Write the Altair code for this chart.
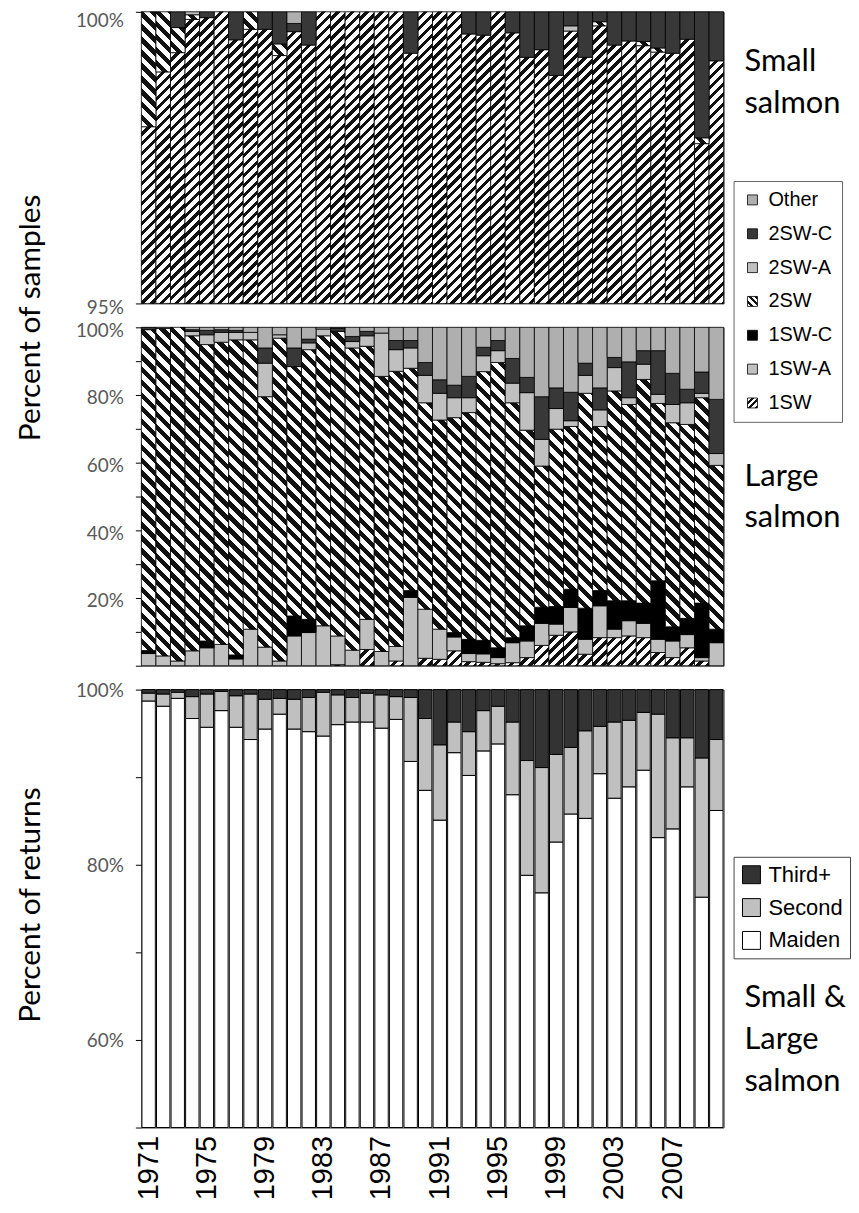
import altair as alt
import pandas as pd

YEARS = [str(y) for y in range(1971, 2011)]
YEAR_LABELS = [str(y) for y in range(1971, 2008, 4)]
AGE_CATS = ["1SW", "1SW-A", "1SW-C", "2SW", "2SW-A", "2SW-C", "Other"]
LEGEND_ORDER = ["Other", "2SW-C", "2SW-A", "2SW", "1SW-C", "1SW-A", "1SW"]
RET_CATS = ["Maiden", "Second", "Third+"]

# ---- Small salmon: percent of samples by sea-age class ----
small_1sw = [98.03, 98.97, 99.30, 99.87, 99.90, 100.0, 99.52, 99.70, 99.70, 99.25,
             99.66, 99.43, 100.0, 100.0, 100.0, 100.0, 100.0, 100.0, 99.29, 100.0,
             100.0, 100.0, 99.62, 99.60, 100.0, 99.64, 99.22, 99.35, 98.91, 99.67,
             99.22, 99.76, 99.43, 99.50, 99.42, 99.31, 99.29, 99.53, 97.74, 99.16]
small_1swa = [0.0] * 40
small_1swc = [0.0] * 40
small_2sw = [1.97, 1.03, 0.43, 0.08, 0.0, 0.0, 0.0, 0.30, 0.0, 0.20,
             0.0, 0.0, 0.0, 0.0, 0.0, 0.0, 0.0, 0.0, 0.0, 0.0,
             0.0, 0.0, 0.0, 0.0, 0.0, 0.0, 0.0, 0.0, 0.0, 0.0,
             0.0, 0.07, 0.0, 0.0, 0.07, 0.07, 0.0, 0.0, 0.10, 0.0]
small_2swa = [0.0, 0.0, 0.0, 0.05, 0.0, 0.0, 0.0, 0.0, 0.0, 0.0,
              0.0, 0.0, 0.0, 0.0, 0.0, 0.0, 0.0, 0.0, 0.0, 0.0,
              0.0, 0.0, 0.0, 0.0, 0.0, 0.0, 0.0, 0.0, 0.0, 0.09,
              0.0, 0.0, 0.0, 0.0, 0.0, 0.0, 0.0, 0.0, 0.0, 0.0]
small_2swc = [0.0, 0.0, 0.27, 0.0, 0.10, 0.0, 0.48, 0.0, 0.30, 0.55,
              0.14, 0.57, 0.0, 0.0, 0.0, 0.0, 0.0, 0.0, 0.71, 0.0,
              0.0, 0.0, 0.38, 0.40, 0.0, 0.36, 0.78, 0.65, 1.09, 0.24,
              0.78, 0.17, 0.57, 0.50, 0.51, 0.62, 0.71, 0.47, 2.16, 0.84]
small_other = [0.0, 0.0, 0.0, 0.0, 0.0, 0.0, 0.0, 0.0, 0.0, 0.0,
               0.20, 0.0, 0.0, 0.0, 0.0, 0.0, 0.0, 0.0, 0.0, 0.0,
               0.0, 0.0, 0.0, 0.0, 0.0, 0.0, 0.0, 0.0, 0.0, 0.0,
               0.0, 0.0, 0.0, 0.0, 0.0, 0.0, 0.0, 0.0, 0.0, 0.0]

# ---- Large salmon ----
large_1sw = [0.0, 0.0, 0.0, 0.0, 0.0, 0.0, 0.0, 0.0, 0.0, 0.0,
             0.0, 0.0, 0.0, 0.3, 0.0, 4.8, 0.0, 1.4, 0.0, 2.2,
             1.9, 4.4, 1.2, 1.0, 0.6, 0.9, 2.4, 6.0, 9.0, 10.0,
             3.4, 8.3, 8.3, 8.8, 8.3, 3.9, 2.4, 5.3, 1.4, 0.0]
large_1swa = [3.6, 2.9, 1.4, 4.4, 5.3, 6.3, 2.0, 10.8, 5.5, 1.4,
              8.8, 9.8, 11.8, 8.5, 4.6, 8.9, 4.2, 4.3, 20.2, 14.5,
              8.9, 4.1, 2.4, 2.5, 1.8, 5.9, 4.9, 6.5, 3.3, 7.2,
              4.4, 9.4, 2.5, 4.5, 4.2, 3.9, 4.9, 3.9, 1.0, 6.8]
large_1swc = [0.9, 0.0, 0.0, 0.0, 2.0, 0.0, 1.2, 0.0, 0.0, 0.0,
              5.9, 3.9, 0.0, 0.0, 0.0, 0.0, 0.0, 0.0, 2.0, 0.0,
              0.0, 1.3, 4.2, 4.0, 2.9, 1.5, 4.5, 4.8, 5.2, 5.4,
              9.2, 4.5, 8.4, 5.9, 6.0, 17.3, 4.2, 4.8, 16.1, 4.0]
large_2sw = [94.8, 96.8, 98.6, 93.1, 87.6, 89.3, 93.1, 85.5, 74.0, 95.4,
             73.7, 79.7, 85.7, 90.0, 89.3, 80.7, 81.3, 81.3, 65.7, 61.0,
             61.8, 63.5, 67.0, 79.4, 84.3, 69.4, 57.8, 41.7, 52.4, 48.1,
             63.5, 48.5, 62.0, 58.0, 66.1, 52.4, 60.3, 57.3, 60.7, 48.4]
large_2swa = [0.0, 0.0, 0.0, 1.3, 2.9, 2.9, 2.2, 2.2, 9.9, 1.0,
              0.0, 2.0, 2.0, 0.0, 1.9, 3.1, 12.8, 6.4, 6.0, 8.1,
              7.9, 5.9, 4.4, 4.7, 3.5, 5.8, 11.1, 7.9, 6.1, 1.7,
              5.3, 4.9, 6.9, 2.0, 4.5, 2.7, 5.4, 6.4, 1.3, 3.5]
large_2swc = [0.7, 0.0, 0.0, 0.5, 1.3, 0.8, 0.6, 0.0, 4.5, 0.0,
              5.5, 1.1, 0.0, 1.0, 1.5, 1.3, 0.0, 2.7, 2.2, 3.8,
              4.0, 3.7, 6.3, 2.5, 3.0, 7.3, 4.5, 12.6, 6.1, 8.4,
              3.6, 6.5, 3.0, 10.6, 4.0, 12.9, 9.2, 4.0, 6.3, 16.0]
large_other = [0.0, 0.3, 0.0, 0.7, 0.9, 0.7, 0.9, 1.5, 6.1, 2.2,
               6.1, 3.5, 0.5, 0.2, 2.7, 1.2, 1.7, 3.9, 3.9, 10.4,
               15.5, 17.1, 14.5, 5.9, 3.9, 9.2, 14.8, 20.5, 17.9, 19.2,
               10.6, 17.9, 8.9, 10.2, 6.9, 6.9, 13.6, 18.3, 13.2, 21.3]

# ---- Returns (small & large): maiden / second / third+ spawners ----
ret_maiden = [98.7, 98.1, 99.0, 96.7, 95.7, 97.6, 95.7, 94.3, 95.5, 97.2,
              95.5, 95.2, 94.7, 96.0, 96.3, 96.3, 95.6, 96.6, 91.8, 88.5,
              85.1, 92.8, 90.2, 93.0, 93.8, 88.0, 78.8, 76.8, 82.6, 85.8,
              85.3, 90.4, 87.6, 88.9, 90.8, 83.1, 84.1, 88.9, 76.3, 86.2]
ret_second = [0.9, 1.4, 0.7, 2.5, 3.8, 2.2, 3.6, 5.2, 3.4, 1.8,
              3.4, 3.9, 5.0, 3.4, 2.8, 3.3, 3.8, 2.6, 7.3, 8.2,
              8.6, 3.5, 5.0, 4.6, 4.3, 8.3, 13.1, 14.3, 10.0, 7.6,
              10.0, 5.4, 8.7, 7.6, 6.6, 14.1, 10.4, 5.6, 15.9, 8.1]
ret_third = [0.4, 0.5, 0.3, 0.8, 0.5, 0.2, 0.7, 0.5, 1.1, 1.0,
             1.1, 0.9, 0.3, 0.6, 0.9, 0.4, 0.6, 0.8, 0.9, 3.3,
             6.3, 3.7, 4.8, 2.4, 1.9, 3.7, 8.1, 8.9, 7.4, 6.6,
             4.7, 4.2, 3.7, 3.5, 2.6, 2.8, 5.5, 5.5, 7.8, 5.7]


def long_table(series, cats):
    rows = []
    for ci, c in enumerate(cats):
        for y, v in zip(YEARS, series[ci]):
            rows.append({"year": y, "cat": c, "ord": ci, "v": v})
    return pd.DataFrame(rows)


small_df = long_table([small_1sw, small_1swa, small_1swc, small_2sw, small_2swa, small_2swc, small_other], AGE_CATS)
large_df = long_table([large_1sw, large_1swa, large_1swc, large_2sw, large_2swa, large_2swc, large_other], AGE_CATS)
ret_df = long_table([ret_maiden, ret_second, ret_third], RET_CATS)

# ---- layout ----
W = 585
BAND = W / 40.0
H_SMALL, H_LARGE, H_RET = 293, 340, 440
LABEL_FONT = "Lato"


# ---- hatch fills built as striped linear gradients ----
def stops_literal(n, frac):
    parts = []
    for j in range(n):
        a = j / n
        b = (j + 1 - frac) / n
        c = (j + 1) / n
        parts += ["{offset:%.5f,color:'#ffffff'}" % a, "{offset:%.5f,color:'#ffffff'}" % b,
                  "{offset:%.5f,color:'#111111'}" % b, "{offset:%.5f,color:'#111111'}" % c]
    return "[" + ",".join(parts) + "]"


def hatch(direction, period, frac, n, w):
    k = "(%g/(%.4f+datum.h*datum.h))" % (period * n, w * w)
    st = stops_literal(n, frac)
    if direction == "/":
        return "{gradient:'linear',x1:0,y1:0,x2:%.4f*%s,y2:datum.h*%s,stops:%s}" % (w, k, k, st)
    return "{gradient:'linear',x1:0,y1:1,x2:%.4f*%s,y2:1-datum.h*%s,stops:%s}" % (w, k, k, st)


def age_fill_expr(w):
    return ("datum.cat=='1SW'?" + hatch("/", 10, 0.45, 40, w)
            + ":datum.cat=='2SW'?" + hatch("\\", 13, 0.5, 40, w)
            + ":datum.cat=='1SW-C'?'#000000'"
            + ":datum.cat=='2SW-C'?'#383838'"
            + ":datum.cat=='Other'?'#afafaf':'#c0c0c0'")


LEG_1SW = "{gradient:'linear',x1:0,y1:0,x2:1,y2:1,stops:%s}" % stops_literal(3, 0.45)
LEG_2SW = "{gradient:'linear',x1:0,y1:1,x2:1,y2:0,stops:%s}" % stops_literal(3, 0.5)
AGE_RANGE = ["#afafaf", "#383838", "#c0c0c0", alt.ExprRef(expr=LEG_2SW),
             "#000000", "#c0c0c0", alt.ExprRef(expr=LEG_1SW)]


def y_axis(values, label_expr, title=None, title_y=None, label_offset=3, top_flush=False):
    kw = dict(values=values, labelExpr=label_expr, labelFont=LABEL_FONT, labelFontSize=19,
              labelColor="#595959", tickSize=6, tickColor="#000000", domain=False, grid=False,
              labelPadding=12, labelOffset=label_offset)
    if top_flush:
        kw.update(labelBaseline={"condition": {"test": "datum.value == 100", "value": "top"}, "value": "middle"},
                  labelOffset={"condition": {"test": "datum.value == 100", "value": 0}, "value": label_offset})
    if title:
        kw.update(title=title, titleX=-111, titleY=title_y, titleFont=LABEL_FONT, titleFontSize=30,
                  titleFontWeight="normal", titleColor="#000000", titleAngle=-90, titleBaseline="middle",
                  titleAlign="center")
    else:
        kw.update(title=None)
    return alt.Axis(**kw)


def side_title(lines, dy):
    return alt.TitleParams(text=lines, orient="top", anchor="start", align="left", baseline="top",
                           frame="group", offset=0, dx=W + 21, dy=dy, font=LABEL_FONT, fontSize=31,
                           fontWeight="normal", color="#000000", lineHeight=42)


def age_panel(df, ymin, height, axis, legend, title):
    ppu = height / (100.0 - ymin)
    base = (alt.Chart(df)
            .transform_filter("datum.v > 0")
            .transform_stack(stack="v", groupby=["year"], sort=[alt.SortField("ord", order="ascending")],
                             as_=["s0", "s1"])
            .transform_calculate(y0="max(datum.s0,%g)" % ymin, y1="max(datum.s1,%g)" % ymin)
            .transform_calculate(h="(datum.y1-datum.y0)*%.6f" % ppu)
            .transform_calculate(fillv=age_fill_expr(BAND)))
    x = alt.X("year:O", scale=alt.Scale(domain=YEARS, paddingInner=0, paddingOuter=0), axis=None)
    y = alt.Y("y0:Q", scale=alt.Scale(domain=[ymin, 100], nice=False, zero=False), axis=axis)
    under = base.mark_bar(strokeWidth=0).encode(
        x=x, y=y, y2="y1:Q",
        fill=alt.Fill("cat:N", scale=alt.Scale(domain=LEGEND_ORDER, range=AGE_RANGE), legend=legend))
    over = base.mark_bar(stroke="#000000", strokeWidth=0.8).encode(
        x=x, y=y, y2="y1:Q", fill=alt.Fill("fillv:N", scale=None))
    return alt.layer(under, over).properties(width=W, height=height, title=title)


age_legend = alt.Legend(title=None, orient="none", legendX=595, legendY=170, direction="vertical",
                        symbolType="square", symbolSize=100, symbolStrokeColor="#000000",
                        symbolStrokeWidth=0.8, labelFont="Liberation Sans", labelFontSize=20,
                        labelColor="#000000", labelOffset=6, rowPadding=14, padding=9,
                        strokeColor="#666666", fillColor="#ffffff", cornerRadius=0)

small_chart = age_panel(small_df, 95, H_SMALL,
                        y_axis([95, 100], "datum.value + '%'", "Percent of samples", 307,
                               label_offset=4, top_flush=True),
                        age_legend, side_title(["Small", "salmon"], 109))

large_chart = age_panel(large_df, 0, H_LARGE,
                        y_axis(list(range(0, 101, 10)),
                               "datum.value % 20 == 0 && datum.value > 0 ? datum.value + '%' : ''"),
                        None, side_title(["Large", "salmon"], 214))

ret_base = (alt.Chart(ret_df)
            .transform_stack(stack="v", groupby=["year"], sort=[alt.SortField("ord", order="ascending")],
                             as_=["s0", "s1"])
            .transform_calculate(y0="max(datum.s0,50)", y1="max(datum.s1,50)"))

ret_chart = ret_base.mark_bar(stroke="#000000", strokeWidth=1).encode(
    x=alt.X("year:O", scale=alt.Scale(domain=YEARS, paddingInner=0.08, paddingOuter=0.04),
            axis=alt.Axis(values=YEAR_LABELS, labelAngle=-90, labelFont="Liberation Sans",
                          labelFontSize=29, labelColor="#000000", ticks=False, domain=False,
                          labelPadding=8, title=None)),
    y=alt.Y("y0:Q", scale=alt.Scale(domain=[50, 100], nice=False, zero=False),
            axis=y_axis(list(range(50, 101, 10)), "datum.value % 20 == 0 ? datum.value + '%' : ''",
                        "Percent of returns", 216, label_offset=1)),
    y2="y1:Q",
    fill=alt.Fill("cat:N", scale=alt.Scale(domain=["Third+", "Second", "Maiden"],
                                           range=["#333333", "#c0c0c0", "#ffffff"]),
                  legend=alt.Legend(title=None, orient="none", legendX=595, legendY=168,
                                    direction="vertical", symbolType="square", symbolSize=324,
                                    symbolStrokeColor="#000000", symbolStrokeWidth=1,
                                    labelFont="Liberation Sans", labelFontSize=22, labelColor="#000000",
                                    labelOffset=6, rowPadding=11, padding=7, strokeColor="#444444",
                                    fillColor="#ffffff", cornerRadius=0)),
).properties(width=W, height=H_RET, title=side_title(["Small &", "Large", "salmon"], 418))

chart = (alt.vconcat(small_chart, large_chart, ret_chart, spacing=24, bounds="flush")
         .resolve_scale(fill="independent")
         .properties(padding={"left": 7, "top": 0, "right": 0, "bottom": 0}, background="#ffffff")
         .configure_view(stroke="#404040", strokeWidth=1))

chart.save("out.html", embed_options={"renderer": "svg", "actions": False})
